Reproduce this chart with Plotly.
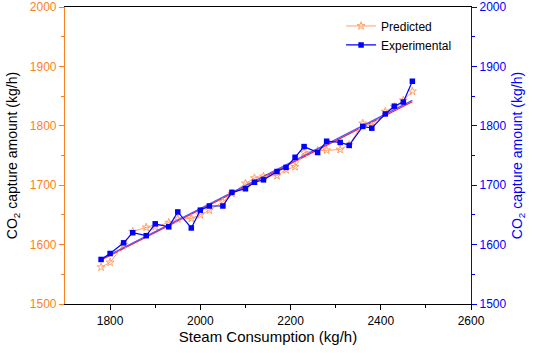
import numpy as np
import plotly.graph_objects as go

steam = [1780, 1800, 1830, 1850, 1880, 1900, 1930, 1950, 1980, 2000,
         2020, 2050, 2070, 2100, 2120, 2140, 2170, 2190, 2210, 2230,
         2260, 2280, 2310, 2330, 2360, 2380, 2410, 2430, 2450, 2470]
predicted = [1562, 1570, 1600, 1622, 1629, 1630, 1637, 1643, 1644, 1650,
             1658, 1672, 1686, 1703, 1712, 1715, 1716, 1726, 1731, 1755,
             1758, 1759, 1760, 1768, 1804, 1800, 1824, 1832, 1843, 1858]
experimental = [1575, 1585, 1603, 1620, 1615, 1635, 1630, 1655, 1628, 1658,
                1665, 1665, 1688, 1694, 1705, 1709, 1723, 1730, 1747, 1765,
                1755, 1774, 1772, 1767, 1799, 1796, 1820, 1833, 1840, 1875]

ORANGE = "#FF7F1E"
BLUE = "#0000FF"
FONT = "Liberation Sans, Arial, sans-serif"

x = np.array(steam, dtype=float)
xfit = np.array([x.min(), x.max()])
pp = np.polyfit(x, predicted, 1)
pe = np.polyfit(x, experimental, 1)

fig = go.Figure()
fig.add_trace(go.Scatter(x=xfit, y=np.polyval(pp, xfit), mode="lines",
                         line=dict(color="#FF2020", width=1.2), showlegend=False))
fig.add_trace(go.Scatter(x=xfit, y=np.polyval(pe, xfit), mode="lines",
                         line=dict(color="#5050FF", width=1.2), showlegend=False, yaxis="y2"))
fig.add_trace(go.Scatter(x=steam, y=predicted, mode="lines+markers", name="Predicted",
                         line=dict(color="#FFA066", width=1),
                         marker=dict(symbol="star-open", size=6, color="#FFA066",
                                     line=dict(width=1, color="#FFA066"))))
fig.add_trace(go.Scatter(x=steam, y=experimental, mode="lines+markers", name="Experimental",
                         yaxis="y2",
                         line=dict(color=BLUE, width=1.2),
                         marker=dict(symbol="square", size=5.5, color=BLUE)))

fig.update_layout(
    width=533, height=353,
    margin=dict(l=65, r=62, t=7, b=49),
    paper_bgcolor="white", plot_bgcolor="white",
    font=dict(family=FONT, size=12, color="black"),
    showlegend=True,
    legend=dict(x=0.68, y=0.985, xanchor="left", yanchor="top",
                bgcolor="rgba(0,0,0,0)", font=dict(size=12),
                tracegroupgap=0, itemwidth=30),
    xaxis=dict(range=[1700, 2600], tickvals=[1800, 2000, 2200, 2400, 2600],
               ticks="outside", ticklen=5, tickcolor="black", automargin="bottom",
               minor=dict(tickvals=[1900, 2100, 2300, 2500], ticks="outside", ticklen=3, tickcolor="black"),
               showline=True, linecolor="black", linewidth=1.2, mirror=True,
               showgrid=False, zeroline=False,
               tickfont=dict(size=12, color="black"),
               title=dict(text="Steam Consumption (kg/h)", font=dict(size=15, color="black"), standoff=3)),
    yaxis=dict(range=[1500, 2000], tickvals=[1500, 1600, 1700, 1800, 1900, 2000],
               ticks="outside", ticklen=5, tickcolor=ORANGE, automargin="left",
               minor=dict(tickvals=[1550, 1650, 1750, 1850, 1950], ticks="outside", ticklen=3, tickcolor=ORANGE),
               showline=True, linecolor=ORANGE, linewidth=1.2,
               showgrid=False, zeroline=False,
               tickfont=dict(size=12, color=ORANGE),
               title=dict(text="CO<sub>2</sub> capture amount (kg/h)", font=dict(size=14, color="black"), standoff=8)),
    yaxis2=dict(range=[1500, 2000], tickvals=[1500, 1600, 1700, 1800, 1900, 2000],
                overlaying="y", side="right", automargin="right",
                ticks="outside", ticklen=5, tickcolor=BLUE,
                minor=dict(tickvals=[1550, 1650, 1750, 1850, 1950], ticks="outside", ticklen=3, tickcolor=BLUE),
                showline=True, linecolor=BLUE, linewidth=1.2,
                showgrid=False, zeroline=False,
                tickfont=dict(size=12, color=BLUE),
                title=dict(text="CO<sub>2</sub> capture amount (kg/h)", font=dict(size=14, color=BLUE), standoff=6)),
)

fig.write_html("out.html", config={"displayModeBar": False},
               post_script="document.body.style.margin='0px';document.body.style.overflow='hidden';")
